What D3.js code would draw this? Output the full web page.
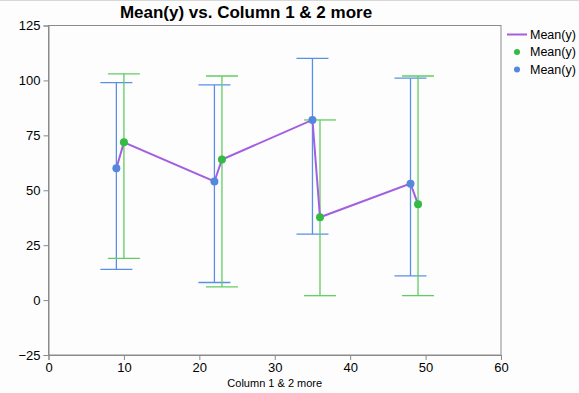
<!DOCTYPE html>
<html><head><meta charset="utf-8">
<script src="https://cdn.jsdelivr.net/npm/d3@7"></script>
<style>
html,body{margin:0;padding:0;background:#fdfdfd;}
text{font-family:"Liberation Sans",Arial,sans-serif;}
</style></head>
<body>
<svg id="c" width="579" height="393"></svg>
<script>
const title = "Mean(y) vs. Column 1 & 2 more";
const xLabel = "Column 1 & 2 more";
const legendLabels = ["Mean(y)", "Mean(y)", "Mean(y)"];
const xTicks = [0, 10, 20, 30, 40, 50, 60];
const yTicks = [-25, 0, 25, 50, 75, 100, 125];

const blueX = [9, 22, 35, 48];
const blueMean = [60, 54, 82, 53];
const blueLow = [14, 8, 30, 11];
const blueHigh = [99, 98, 110, 101];

const greenX = [10, 23, 36, 49];
const greenMean = [71.8, 64, 37.7, 43.6];
const greenLow = [19, 6, 2, 2];
const greenHigh = [103, 102, 82, 102];

const svg = d3.select("#c");
const W = 579, H = 393;
const m = {l: 48.5, r: 78, t: 25.5, b: 38};
const x = d3.scaleLinear().domain([0, 60]).range([m.l, W - m.r]);
const y = d3.scaleLinear().domain([-25, 125]).range([H - m.b, m.t]);

svg.append("line").attr("x1",0).attr("x2",W).attr("y1",0.5).attr("y2",0.5).attr("stroke","#d8d8d8");

// frame
svg.append("rect").attr("x", m.l).attr("y", m.t)
  .attr("width", x(60) - m.l).attr("height", y(-25) - m.t)
  .attr("fill", "none").attr("stroke", "#8a8a8a");

const xa = svg.append("g").attr("transform", `translate(0,${y(-25)})`)
  .call(d3.axisBottom(x).tickValues(xTicks).tickSize(5).tickPadding(3));
const ya = svg.append("g").attr("transform", `translate(${m.l},0)`)
  .call(d3.axisLeft(y).tickValues(yTicks).tickSize(5).tickPadding(3));
[xa, ya].forEach(a => {
  a.select(".domain").attr("stroke", "#8a8a8a");
  a.selectAll(".tick line").attr("stroke", "#8a8a8a");
  a.selectAll(".tick text").attr("fill", "#000").style("font-size", "13px")
   .style("font-family", '"Liberation Sans",Arial,sans-serif');
});

svg.append("text").attr("x", 246).attr("y", 18).attr("text-anchor", "middle")
  .style("font-size", "17px").style("font-weight", "bold").text(title);
svg.append("text").attr("x", x(30)).attr("y", 387).attr("text-anchor", "middle")
  .style("font-size", "11px").text(xLabel);

const cap = 16;
function bars(xs, lo, hi, col) {
  const g = svg.append("g").attr("stroke", col).attr("stroke-width", 1.3);
  xs.forEach((v, i) => {
    g.append("line").attr("x1", x(v)).attr("x2", x(v)).attr("y1", y(lo[i])).attr("y2", y(hi[i]));
    g.append("line").attr("x1", x(v) - cap).attr("x2", x(v) + cap).attr("y1", y(lo[i])).attr("y2", y(lo[i]));
    g.append("line").attr("x1", x(v) - cap).attr("x2", x(v) + cap).attr("y1", y(hi[i])).attr("y2", y(hi[i]));
  });
}
bars(blueX, blueLow, blueHigh, "#5b8fe6");
bars(greenX, greenLow, greenHigh, "#62cc62");

const pts = [];
blueX.forEach((v, i) => {
  pts.push([v, blueMean[i]]);
  pts.push([greenX[i], greenMean[i]]);
});
svg.append("path").datum(pts)
  .attr("d", d3.line().x(d => x(d[0])).y(d => y(d[1])))
  .attr("fill", "none").attr("stroke", "#a35fe0").attr("stroke-width", 2);

svg.append("g").selectAll("circle").data(blueX).join("circle")
  .attr("cx", d => x(d)).attr("cy", (d, i) => y(blueMean[i])).attr("r", 4).attr("fill", "#5588dd");
svg.append("g").selectAll("circle").data(greenX).join("circle")
  .attr("cx", d => x(d)).attr("cy", (d, i) => y(greenMean[i])).attr("r", 4).attr("fill", "#33bb44");

// legend
const lg = svg.append("g");
lg.append("line").attr("x1", 507).attr("x2", 527).attr("y1", 34.5).attr("y2", 34.5)
  .attr("stroke", "#a35fe0").attr("stroke-width", 2);
lg.append("circle").attr("cx", 517).attr("cy", 52).attr("r", 3).attr("fill", "#33bb44");
lg.append("circle").attr("cx", 517).attr("cy", 69.5).attr("r", 3).attr("fill", "#5588dd");
legendLabels.forEach((t, i) => {
  lg.append("text").attr("x", 530).attr("y", 39 + i * 17.3).style("font-size", "12.5px").text(t);
});
</script>
</body></html>
